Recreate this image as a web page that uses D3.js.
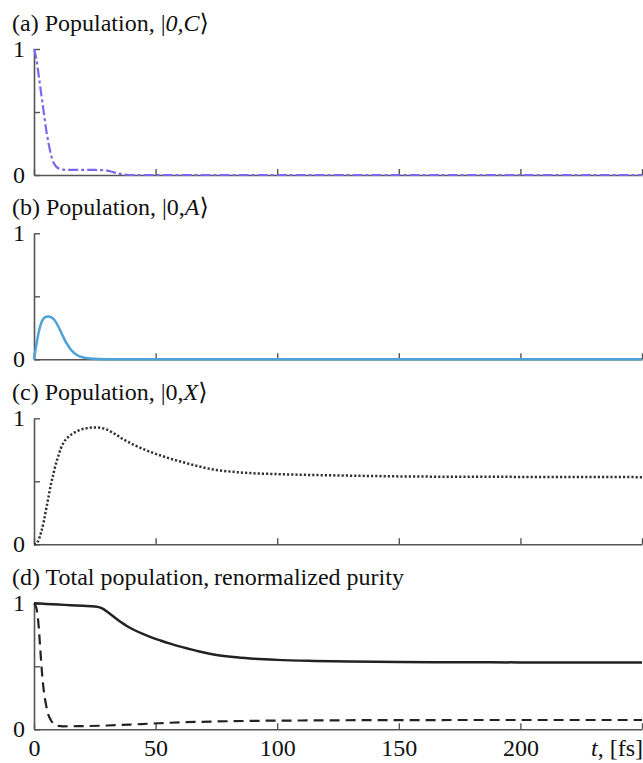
<!DOCTYPE html>
<html><head><meta charset="utf-8">
<script src="https://cdn.jsdelivr.net/npm/d3@7"></script>
<style>
html,body{margin:0;padding:0;background:#fff;}
svg text{font-family:"Liberation Serif","Tinos","Times New Roman","Times","DejaVu Serif","Noto Serif",serif;}
</style></head>
<body><svg id="chart" width="643" height="763"></svg>
<script>
// ---- Data ----
const tC = [0,1,2,3,4,5,6,7,8,9,10,12,15,20,25,28,30,32,34,36,38,40,50,100,150,200,250];
const popC = [1,0.92,0.78,0.64,0.5,0.36,0.25,0.16,0.1,0.07,0.053,0.042,0.04,0.04,0.04,0.038,0.035,0.026,0.015,0.007,0.002,0,0,0,0,0,0];

const tA = [0,1,2,3,4,5,6,7,8,9,10,11,12,13,14,15,16,17,18,20,22,25,30,35,50,100,150,200,250];
const popA = [0,0.12,0.22,0.29,0.325,0.338,0.34,0.335,0.32,0.295,0.26,0.22,0.18,0.14,0.11,0.08,0.06,0.043,0.03,0.016,0.009,0.004,0.001,0,0,0,0,0,0];

const tX = [0,1,2,3,4,5,6,7,8,9,10,11,12,13,14,16,18,20,22,24,26,28,30,32,34,37,41,45,48,52,56,61,68,75,82,89,100,115,130,150,175,200,250];
const popX = [0,0.005,0.04,0.1,0.18,0.28,0.38,0.48,0.56,0.64,0.7,0.76,0.8,0.83,0.85,0.88,0.9,0.915,0.922,0.927,0.928,0.922,0.91,0.89,0.867,0.83,0.79,0.755,0.732,0.705,0.68,0.653,0.617,0.59,0.575,0.565,0.557,0.55,0.545,0.539,0.536,0.535,0.533];

const tTot = [0,5,10,15,20,25,27,28,30,32,34,36,38,41,45,48,52,56,61,68,75,82,89,100,115,130,150,175,200,250];
const totalPop = [1,0.995,0.99,0.985,0.98,0.975,0.968,0.96,0.935,0.905,0.875,0.847,0.822,0.79,0.755,0.732,0.705,0.68,0.652,0.617,0.59,0.573,0.562,0.551,0.543,0.538,0.534,0.532,0.531,0.53];

const tPur = [0,1,2,2.5,3,3.5,4,5,6,7,8,9,10,12,20,30,40,48,60,75,90,110,150,200,250];
const purity = [1,0.96,0.8,0.66,0.52,0.4,0.31,0.19,0.11,0.07,0.045,0.033,0.027,0.024,0.025,0.03,0.038,0.045,0.055,0.062,0.067,0.07,0.073,0.074,0.074];

const xTicks = [0,50,100,150,200,250];
const xTickLabels = ["0","50","100","150","200",""];
const yTicks = [0,0.5,1];
const yTickLabels = ["0","","1"];
const xAxisTitle = ["t", ", [fs]"];

// ---- Layout ----
const svg = d3.select("#chart");
const left = 34, right = 642;
const panelTop = [49, 233.3, 418.3, 603.3];
const panelH = 126;
const x = d3.scaleLinear().domain([0,250]).range([left,right]);
const axisColor = "#555";
const fontSize = 24;
const serif = '"Liberation Serif","Tinos","Times New Roman","Times","DejaVu Serif","Noto Serif",serif';

const panels = [
  {title:[["(a) Population, |",false],["0,C",true],["\u27E9",false]],
   series:[{t:tC,v:popC,color:"#7b68ee",width:2.2,dash:"10,3,3,3"}]},
  {title:[["(b) Population, |0,",false],["A",true],["\u27E9",false]],
   series:[{t:tA,v:popA,color:"#4fa3d8",width:2.5,dash:null}]},
  {title:[["(c) Population, |0,",false],["X",true],["\u27E9",false]],
   series:[{t:tX,v:popX,color:"#333",width:2.5,dash:"2.2,2"}]},
  {title:[["(d) Total population,\u2009renormalized purity",false]],
   series:[{t:tTot,v:totalPop,color:"#222",width:2.5,dash:null},
           {t:tPur,v:purity,color:"#222",width:2.2,dash:"10,6"}]}
];

panels.forEach((p,i)=>{
  const top = panelTop[i];
  const bottom = top + panelH;
  const y = d3.scaleLinear().domain([0,1]).range([bottom, top]);
  const g = svg.append("g");

  // title
  const tt = g.append("text").attr("x",12).attr("y",top-18)
    .attr("font-size",fontSize).attr("fill","#111").style("font-family",serif);
  p.title.forEach(([s,it])=>{
    const ts = tt.append("tspan").text(s);
    if(it) ts.attr("font-style","italic");
  });

  // bottom axis
  const isLast = i === panels.length-1;
  const xAxis = d3.axisBottom(x).tickValues(xTicks)
    .tickSizeInner(-6).tickSizeOuter(0).tickPadding(10)
    .tickFormat((d,k)=> isLast ? xTickLabels[k] : "");
  const gx = g.append("g").attr("transform",`translate(0,${bottom})`).call(xAxis);
  gx.attr("font-family",null);
  gx.select(".domain").attr("stroke",axisColor).attr("stroke-width",1.6);
  gx.selectAll(".tick line").attr("stroke",axisColor).attr("stroke-width",1.4);
  gx.selectAll(".tick text").attr("font-size",fontSize).attr("fill","#111")
    .style("font-family",serif);

  // left axis
  const yAxis = d3.axisLeft(y).tickValues(yTicks)
    .tickSizeInner(-6).tickSizeOuter(0).tickPadding(9)
    .tickFormat((d,k)=>yTickLabels[k]);
  const gy = g.append("g").attr("transform",`translate(${left},0)`).call(yAxis);
  gy.attr("font-family",null);
  gy.select(".domain").attr("stroke",axisColor).attr("stroke-width",1.6);
  gy.selectAll(".tick line").attr("stroke",axisColor).attr("stroke-width",1.4);
  gy.selectAll(".tick text").attr("font-size",fontSize).attr("fill","#111")
    .style("font-family",serif);

  // series
  p.series.forEach(s=>{
    const data = s.t.map((t,k)=>[t,s.v[k]]);
    const line = d3.line().x(d=>x(d[0])).y(d=>y(d[1])).curve(d3.curveMonotoneX);
    g.append("path").datum(data).attr("d",line)
      .attr("fill","none").attr("stroke",s.color).attr("stroke-width",s.width)
      .attr("stroke-dasharray",s.dash).attr("stroke-linejoin","round");
  });

  if(isLast){
    const lab = g.append("text").attr("x",643).attr("y",bottom+27)
      .attr("text-anchor","end").attr("font-size",fontSize).attr("fill","#111")
      .style("font-family",serif);
    lab.append("tspan").attr("font-style","italic").text(xAxisTitle[0]);
    lab.append("tspan").text(xAxisTitle[1]);
  }
});
</script></body></html>
